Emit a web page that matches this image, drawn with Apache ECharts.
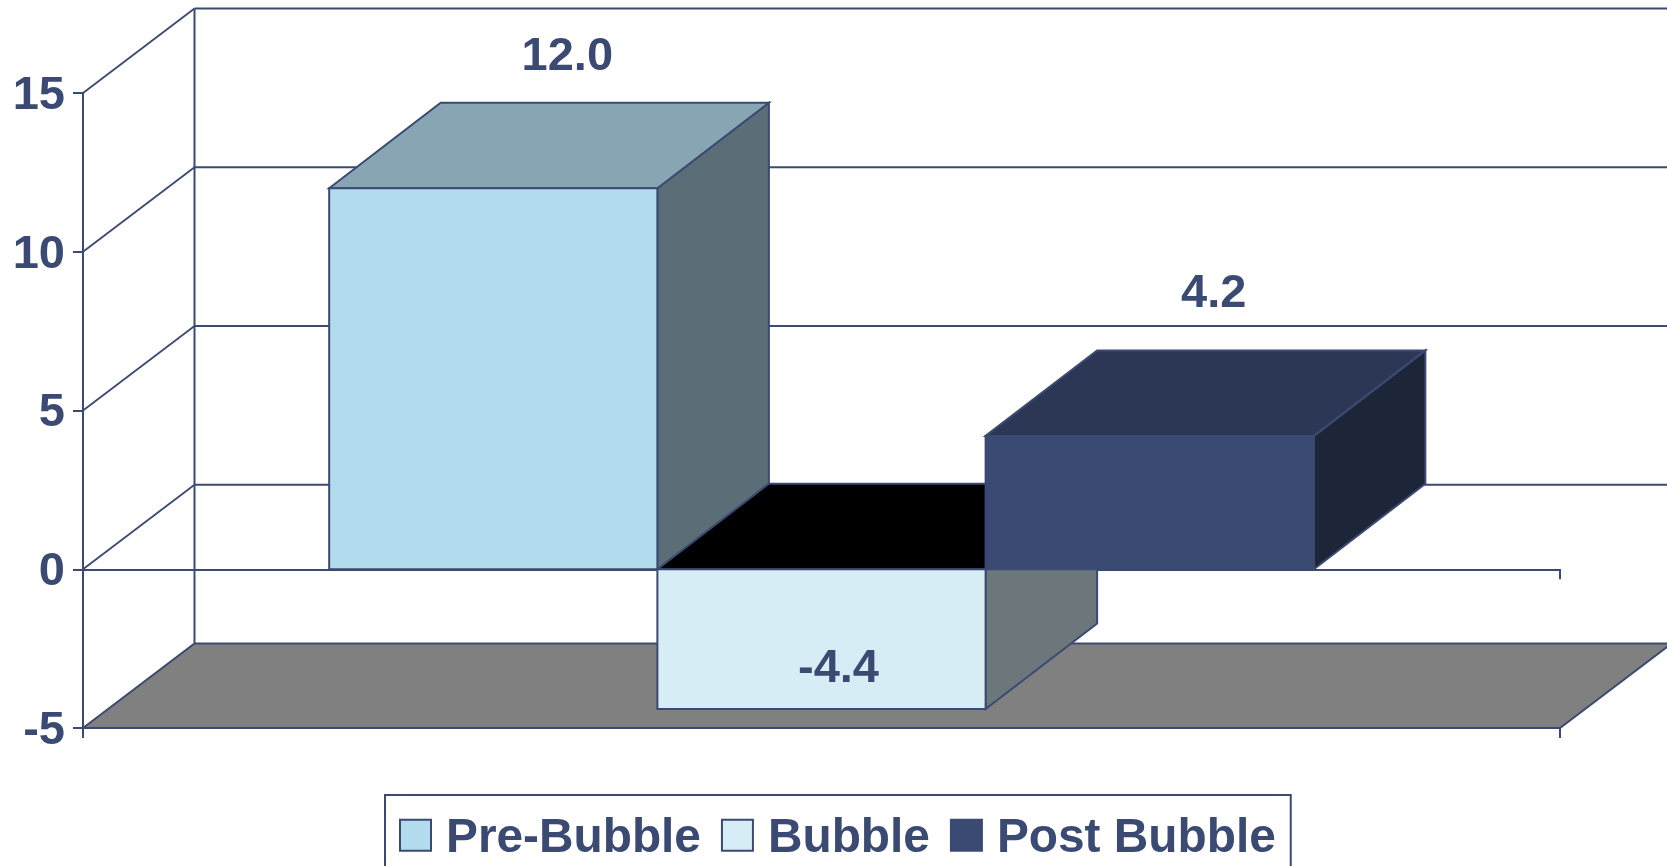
<!DOCTYPE html>
<html>
<head>
<meta charset="utf-8">
<title>Bubble chart</title>
<style>
  html, body { margin: 0; padding: 0; background: #fff; }
  #main { width: 1667px; height: 866px; overflow: hidden; }
</style>
<script src="https://cdn.jsdelivr.net/npm/echarts@6/dist/echarts.min.js"></script>
</head>
<body>
<div id="main"></div>
<script>
// chart data
const categories = [''];
const yTicks = [-5, 0, 5, 10, 15];
const seriesNames = ['Pre-Bubble', 'Bubble', 'Post Bubble'];
const preBubble = [12.0];
const bubble = [-4.4];
const postBubble = [4.2];

const ink = '#3b4a72';
const font = '"Liberation Sans", Arial, sans-serif';
const depthX = 111.5;
const wallDepthY = 84.5;
const barDepthY = 85.5;

const myChart = echarts.init(document.getElementById('main'));

function line(x1, y1, x2, y2, width) {
    return {
        type: 'line',
        shape: { x1: x1, y1: y1, x2: x2, y2: y2 },
        style: { stroke: ink, lineWidth: width }
    };
}

function face(points, color, width) {
    return {
        type: 'polygon',
        shape: { points: points },
        style: { fill: color, stroke: ink, lineWidth: width, lineJoin: 'miter' }
    };
}

// floor, back wall and side wall, one data item per tick
function renderWall(params, api) {
    const v = api.value(1);
    const p = api.coord([0, v]);
    const band = api.size([1, 0])[0];
    const left = p[0] - band / 2;
    const right = p[0] + band / 2;
    const children = [];
    if (v === yTicks[0]) {
        children.push(face([
            [left, p[1]],
            [left + depthX, p[1] - wallDepthY],
            [right + depthX, p[1] - wallDepthY],
            [right, p[1]]
        ], '#808080', 2));
        const top = api.coord([0, yTicks[yTicks.length - 1]]);
        children.push(line(left + depthX, p[1] - wallDepthY, left + depthX, top[1] - wallDepthY, 2));
    } else {
        children.push(line(left, p[1], left + depthX, p[1] - wallDepthY, 1.8));
        children.push(line(left + depthX, p[1] - wallDepthY, right + depthX, p[1] - wallDepthY, 2));
    }
    return { type: 'group', children: children };
}

function barRenderer(index, colors, labelOffset) {
    return function (params, api) {
        const v = api.value(1);
        const zero = api.coord([0, 0]);
        const end = api.coord([0, v]);
        const barW = api.size([1, 0])[0] / 4.5;
        const x0 = zero[0] + (index - 1.5) * barW;
        const x1 = x0 + barW;
        const yTop = Math.min(zero[1], end[1]);
        const yBottom = Math.max(zero[1], end[1]);
        return {
            type: 'group',
            children: [
                face([[x1, yTop], [x1 + depthX, yTop - barDepthY], [x1 + depthX, yBottom - barDepthY], [x1, yBottom]], colors.side, 2),
                face([[x0, yTop], [x0 + depthX, yTop - barDepthY], [x1 + depthX, yTop - barDepthY], [x1, yTop]], colors.top, 2),
                face([[x0, yTop], [x1, yTop], [x1, yBottom], [x0, yBottom]], colors.front, 2),
                {
                    type: 'text',
                    x: (x0 + x1) / 2 + labelOffset[0],
                    y: (v >= 0 ? yTop : yBottom) + labelOffset[1],
                    style: {
                        text: v.toFixed(1),
                        fill: ink,
                        font: 'bold 47px ' + font,
                        align: 'center',
                        verticalAlign: 'middle'
                    }
                }
            ]
        };
    };
}

function barSeries(name, values, index, colors, labelOffset) {
    return {
        name: name,
        type: 'custom',
        silent: true,
        z: 3 + index,
        encode: { x: 0, y: 1 },
        itemStyle: { color: colors.front },
        renderItem: barRenderer(index, colors, labelOffset),
        data: values.map(function (v, i) { return [i, v]; })
    };
}

const preColors = { front: '#b3dbee', top: '#87a5b2', side: '#5b6e78' };
const bubbleColors = { front: '#d7edf6', top: '#000000', side: '#6c777c' };
const postColors = { front: '#3b4a72', top: '#2c3755', side: '#1d2639' };

myChart.setOption({
    animation: false,
    backgroundColor: '#fff',
    grid: { left: 83, right: 107, top: 93, bottom: 138 },
    legend: {
        left: 385,
        top: 795,
        padding: [12.7, 15, 40, 14],
        itemWidth: 31,
        itemHeight: 31,
        itemGap: 20,
        selectedMode: false,
        borderColor: ink,
        borderWidth: 2,
        formatter: '{a|{name}}',
        textStyle: {
            rich: {
                a: {
                    color: ink,
                    fontFamily: font,
                    fontWeight: 'bold',
                    fontSize: 47.8,
                    lineHeight: 47,
                    padding: [7, 0, 0, 10]
                }
            }
        },
        data: [
            { name: seriesNames[0], icon: 'rect', itemStyle: { color: preColors.front, borderColor: ink, borderWidth: 2 } },
            { name: seriesNames[1], icon: 'rect', itemStyle: { color: bubbleColors.front, borderColor: ink, borderWidth: 2 } },
            { name: seriesNames[2], icon: 'rect', itemStyle: { color: postColors.front, borderColor: ink, borderWidth: 2 } }
        ]
    },
    xAxis: [
        {
            type: 'category',
            data: categories,
            axisLine: { onZero: true, lineStyle: { color: ink, width: 2 } },
            axisTick: { show: true, length: 10, lineStyle: { color: ink, width: 2 } },
            axisLabel: { show: false }
        },
        {
            type: 'category',
            data: categories,
            position: 'bottom',
            axisLine: { onZero: false, lineStyle: { color: ink, width: 2 } },
            axisTick: { show: true, length: 10, lineStyle: { color: ink, width: 2 } },
            axisLabel: { show: false }
        }
    ],
    yAxis: {
        type: 'value',
        min: yTicks[0],
        max: yTicks[yTicks.length - 1],
        interval: 5,
        splitLine: { show: false },
        axisLine: { show: true, onZero: false, lineStyle: { color: ink, width: 2 } },
        axisTick: { show: true, length: 10, lineStyle: { color: ink, width: 2 } },
        axisLabel: {
            margin: 18,
            formatter: '{a|{value}}',
            rich: {
                a: {
                    color: ink,
                    fontFamily: font,
                    fontWeight: 'bold',
                    fontSize: 47,
                    lineHeight: 47,
                    padding: [6, 0, 0, 0]
                }
            }
        }
    },
    series: [
        {
            type: 'custom',
            silent: true,
            z: 2,
            encode: { x: 0, y: 1 },
            renderItem: renderWall,
            data: yTicks.map(function (v) { return [0, v]; })
        },
        barSeries(seriesNames[0], preBubble, 0, preColors, [74, -131]),
        barSeries(seriesNames[1], bubble, 1, bubbleColors, [17, -40]),
        barSeries(seriesNames[2], postBubble, 2, postColors, [64, -142])
    ]
});
</script>
</body>
</html>
